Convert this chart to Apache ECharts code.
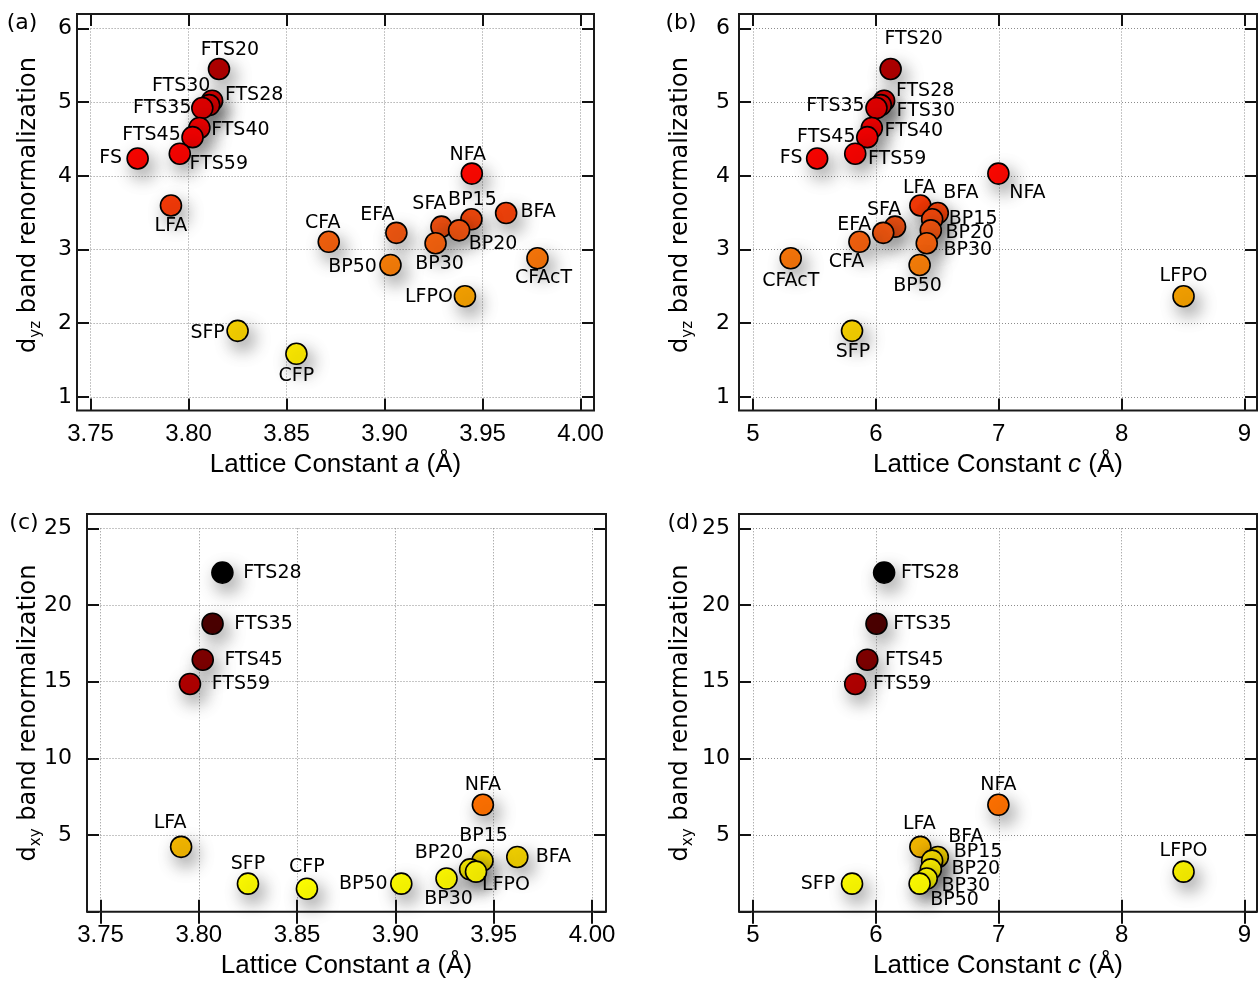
<!DOCTYPE html>
<html>
<head>
<meta charset="utf-8">
<script src="https://cdn.jsdelivr.net/npm/echarts@6/dist/echarts.min.js"></script>
<style>
  html, body { margin: 0; padding: 0; background: #fff; }
  #chart { width: 1258px; height: 989px; }
</style>
</head>
<body>
<div id="chart"></div>
<script>
// compounds and their values
var names = ['FTS20', 'FTS28', 'FTS30', 'FTS35', 'FTS40', 'FTS45', 'FTS59', 'FS', 'LFA', 'NFA', 'BFA',
  'BP15', 'SFA', 'BP20', 'BP30', 'EFA', 'CFA', 'BP50', 'CFAcT', 'LFPO', 'SFP', 'CFP']
var latA = [3.8155, 3.812, 3.8105, 3.807, 3.8055, 3.802, 3.7955, 3.774, 3.791, 3.9445, 3.962,
  3.9443, 3.929, 3.938, 3.926, 3.906, 3.8715, 3.903, 3.978, 3.941, 3.825, 3.855]
var latC = [6.12, 6.067, 6.04, 6.005, 5.967, 5.93, 5.832, 5.522, 6.362, 6.997, 6.504,
  6.458, 6.156, 6.447, 6.414, 6.06, 5.866, 6.356, 5.307, 8.504, 5.806, null]
var dyz = [5.45, 5.02, 4.96, 4.92, 4.65, 4.525, 4.30, 4.235, 3.597, 4.03, 3.495,
  3.41, 3.31, 3.26, 3.085, 3.226, 3.104, 2.79, 2.88, 2.365, 1.895, 1.584]
var dxy = [null, 22.11, null, 18.78, null, 16.43, 14.85, null, 4.23, 6.97, 3.57,
  3.33, null, 2.76, 2.16, null, null, 1.83, null, 2.61, 1.83, 1.50]

var aTicks = [3.75, 3.80, 3.85, 3.90, 3.95, 4.00]
var cTicks = [5, 6, 7, 8, 9]
var dyzTicks = [1, 2, 3, 4, 5, 6]
var dxyTicks = [5, 10, 15, 20, 25]

// colour scale (value -> colour), a reversed "hot" map
var dyzColors = [[1.5, '#fbee00'], [1.9, '#f6d000'], [2.36, '#f4a000'], [2.85, '#f6780a'], [3.1, '#f2600e'],
  [3.3, '#ea5012'], [3.6, '#f43a08'], [4.0, '#fe0800'], [4.6, '#f00000'], [5.0, '#dc0000'], [5.45, '#b00000']]
var dxyColors = [[1.5, '#ffff00'], [2.6, '#f8f000'], [3.5, '#f0d200'], [4.2, '#f4b800'], [7, '#ff7000'],
  [14.85, '#b20000'], [16.4, '#800000'], [18.8, '#4c0000'], [22.1, '#000000']]

// label placement (offset of label centre from marker centre, px)
var labelOffsets = {
  a: { FTS20: [11, -19], FTS30: [-28, -19], FTS28: [42, -6], FTS35: [-40, 0], FTS40: [41, 2], FTS45: [-41, -2],
    FS: [-27, 0], FTS59: [39, 10], LFA: [0, 21], NFA: [-4, -19], SFA: [-12, -23], BP15: [1, -19], BFA: [32, -1],
    BP20: [34, 14], BP30: [4, 21], EFA: [-19, -18], CFA: [-6, -19], BP50: [-38, 2], CFAcT: [6, 20],
    LFPO: [-36, 1], SFP: [-30, 2], CFP: [0, 22] },
  b: { FTS20: [23, -30], FTS28: [41, -10], FTS30: [45, 6], FTS35: [-41, -2], FTS40: [42, 3], FTS45: [-41, 0],
    FS: [-26, 0], FTS59: [42, 5], NFA: [29, 19], LFA: [-1, -17], BFA: [23, -20], BP15: [41, 0], BP20: [39, 3],
    BP30: [41, 7], SFA: [-11, -17], EFA: [-29, -8], CFA: [-13, 20], BP50: [-2, 21], CFAcT: [0, 23],
    LFPO: [0, -20], SFP: [1, 21] },
  c: { FTS28: [50, 0], FTS35: [51, 0], FTS45: [51, 0], FTS59: [51, 0], NFA: [0, -20], LFA: [-11, -24],
    BFA: [36, 0], BP15: [1, -25], BP20: [-31, -16], LFPO: [30, 13], BP30: [2, 20], BP50: [-38, 0],
    SFP: [0, -20], CFP: [0, -22] },
  d: { FTS28: [46, 0], FTS35: [46, 0], FTS45: [47, 0], FTS59: [47, 0], NFA: [0, -20], LFA: [-1, -23],
    BFA: [28, -20], BP15: [46, -9], BP20: [45, 0], BP30: [39, 7], BP50: [35, 16], SFP: [-34, 0],
    LFPO: [0, -21] }
}

var panels = [
  { key: 'a', tag: '(a)', xs: latA, ys: dyz, xTicks: aTicks, yTicks: dyzTicks, yMin: 1, colors: dyzColors,
    xDec: 2, xVar: 'a', sub: 'yz', frame: [77, 14, 594, 410.5], grid: [90.6, 28.5, 580.6, 396.8],
    yLabelMargin: 5, tagAt: [22, 23], yTitleAt: [29, 205] },
  { key: 'b', tag: '(b)', xs: latC, ys: dyz, xTicks: cTicks, yTicks: dyzTicks, yMin: 1, colors: dyzColors,
    xDec: 0, xVar: 'c', sub: 'yz', frame: [739, 14, 1257, 410.5], grid: [753, 28.5, 1244.5, 396.8],
    yLabelMargin: 9, tagAt: [681, 23], yTitleAt: [681, 205] },
  { key: 'c', tag: '(c)', xs: latA, ys: dxy, xTicks: aTicks, yTicks: dxyTicks, yMin: 0, colors: dxyColors,
    xDec: 2, xVar: 'a', sub: 'xy', frame: [87, 514, 606, 911.7], grid: [100.5, 528.3, 592, 911.7],
    yLabelMargin: 15, tagAt: [24, 523], yTitleAt: [29, 713] },
  { key: 'd', tag: '(d)', xs: latC, ys: dxy, xTicks: cTicks, yTicks: dxyTicks, yMin: 0, colors: dxyColors,
    xDec: 0, xVar: 'c', sub: 'xy', frame: [739, 514, 1257, 911.7], grid: [753, 528.3, 1244.5, 911.7],
    yLabelMargin: 9, tagAt: [683, 523], yTitleAt: [681, 713] }
]

function hexToRgb(h) {
  return [parseInt(h.substr(1, 2), 16), parseInt(h.substr(3, 2), 16), parseInt(h.substr(5, 2), 16)]
}

function hot(v, stops) {
  if (v <= stops[0][0]) return stops[0][1]
  for (var i = 1; i < stops.length; i++) {
    if (v <= stops[i][0]) {
      var t = (v - stops[i - 1][0]) / (stops[i][0] - stops[i - 1][0])
      var c0 = hexToRgb(stops[i - 1][1])
      var c1 = hexToRgb(stops[i][1])
      var c = c0.map(function (x, k) { return Math.round(x + (c1[k] - x) * t) })
      return 'rgb(' + c.join(',') + ')'
    }
  }
  return stops[stops.length - 1][1]
}

var tickStyle = { color: '#111', width: 2 }
var gridLineStyle = { color: '#8c8c8c', width: 1, type: [1, 2] }
var numFont = 'DejaVu Sans'
var textColor = '#000'

var grids = []
var xAxes = []
var yAxes = []
var series = []
var elements = []

panels.forEach(function (p, i) {
  var f = p.frame
  var g = p.grid
  grids.push({ left: g[0], top: g[1], width: g[2] - g[0], height: g[3] - g[1], outerBoundsMode: 'none' })

  var xStep = +(p.xTicks[1] - p.xTicks[0]).toFixed(6)
  var yStep = +(p.yTicks[1] - p.yTicks[0]).toFixed(6)
  var xBase = { gridIndex: i, type: 'value', min: p.xTicks[0], max: p.xTicks[p.xTicks.length - 1], interval: xStep,
    axisLine: { show: false }, axisTick: { show: true, inside: true, length: 12, lineStyle: tickStyle } }
  var yBase = { gridIndex: i, type: 'value', min: p.yMin, max: p.yTicks[p.yTicks.length - 1], interval: yStep,
    axisLine: { show: false }, axisTick: { show: true, inside: true, length: 12, lineStyle: tickStyle } }

  xAxes.push(Object.assign({}, xBase, {
    position: 'bottom', offset: f[3] - g[3],
    splitLine: { show: true, lineStyle: gridLineStyle },
    axisLabel: { margin: 12, fontFamily: 'Liberation Sans', fontSize: 24, color: textColor,
      formatter: function (v) { return v.toFixed(p.xDec) } }
  }))
  xAxes.push(Object.assign({}, xBase, {
    position: 'top', offset: g[1] - f[1], splitLine: { show: false }, axisLabel: { show: false }
  }))
  yAxes.push(Object.assign({}, yBase, {
    position: 'left', offset: g[0] - f[0],
    splitLine: { show: true, lineStyle: gridLineStyle },
    axisLabel: { margin: p.yLabelMargin, fontFamily: numFont, fontSize: 22, color: textColor,
      formatter: function (v) { return v < p.yTicks[0] ? '' : String(v) } }
  }))
  yAxes.push(Object.assign({}, yBase, {
    position: 'right', offset: f[2] - g[2], splitLine: { show: false }, axisLabel: { show: false }
  }))

  var offs = labelOffsets[p.key]
  var data = []
  names.forEach(function (n, k) {
    if (p.xs[k] == null || p.ys[k] == null) return
    data.push({
      name: n,
      value: [p.xs[k], p.ys[k]],
      itemStyle: { color: hot(p.ys[k], p.colors) },
      label: { offset: offs[n] || [0, -20] }
    })
  })

  series.push({
    type: 'scatter',
    xAxisIndex: 2 * i,
    yAxisIndex: 2 * i,
    symbolSize: 21,
    itemStyle: { opacity: 1, borderColor: '#000', borderWidth: 1.6, shadowBlur: 18,
      shadowColor: 'rgba(0,0,0,0.4)', shadowOffsetX: 5, shadowOffsetY: 8 },
    label: { show: true, position: 'inside', formatter: '{b}', fontFamily: 'DejaVu Sans', fontSize: 19,
      color: textColor, opacity: 1 },
    emphasis: { disabled: true },
    data: data
  })

  // frame
  elements.push({ type: 'rect', silent: true, z: 50,
    shape: { x: f[0], y: f[1], width: f[2] - f[0], height: f[3] - f[1] },
    style: { fill: 'none', stroke: '#1a1a1a', lineWidth: 2 } })
  // panel tag
  elements.push({ type: 'text', x: p.tagAt[0], y: p.tagAt[1],
    style: { text: p.tag, font: '22px "DejaVu Sans"', fill: textColor, align: 'center', verticalAlign: 'middle' } })
  // x title
  elements.push({ type: 'text', x: (f[0] + f[2]) / 2, y: f[3] + 54,
    style: {
      text: '{n|Lattice Constant }{i|' + p.xVar + '}{n| (Å)}',
      align: 'center', verticalAlign: 'middle',
      rich: {
        n: { fontFamily: 'Liberation Sans', fontSize: 26, fill: textColor },
        i: { fontFamily: 'Liberation Sans', fontSize: 26, fontStyle: 'italic', fill: textColor }
      }
    } })
  // y title
  elements.push({ type: 'text', x: p.yTitleAt[0], y: p.yTitleAt[1], rotation: Math.PI / 2,
    style: {
      text: '{m|d}{s|' + p.sub + '}{m| band renormalization}',
      align: 'center', verticalAlign: 'middle',
      rich: {
        m: { fontFamily: 'DejaVu Sans', fontSize: 24, lineHeight: 30, fill: textColor },
        s: { fontFamily: 'DejaVu Sans', fontSize: 15, lineHeight: 15, verticalAlign: 'bottom', fill: textColor }
      }
    } })
})

var chart = echarts.init(document.getElementById('chart'), null, { renderer: 'canvas' })
chart.setOption({
  animation: false,
  backgroundColor: '#fff',
  grid: grids,
  xAxis: xAxes,
  yAxis: yAxes,
  series: series,
  graphic: { elements: elements }
})
</script>
</body>
</html>
